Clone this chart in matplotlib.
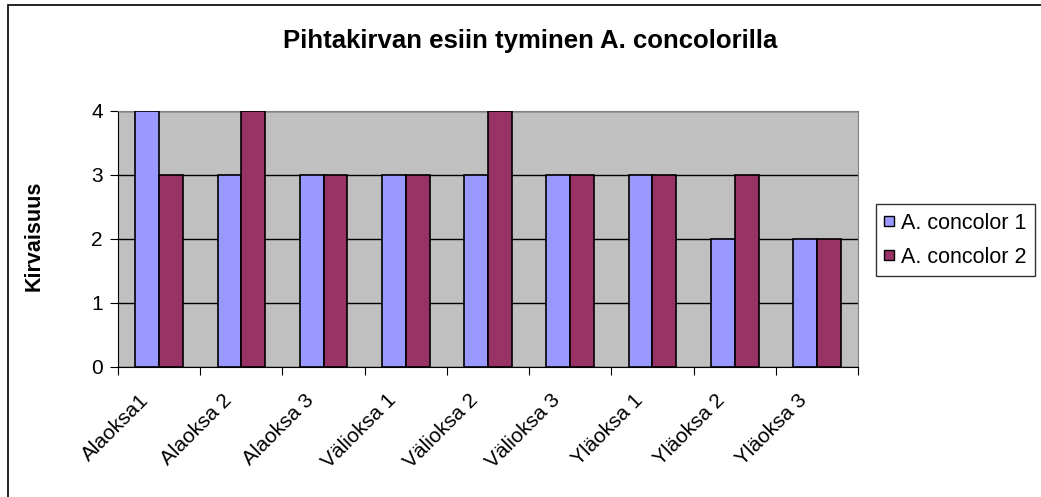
import numpy as np
import matplotlib.pyplot as plt
import matplotlib.transforms as mtransforms
from matplotlib.patches import Rectangle
from matplotlib.lines import Line2D

plt.rcParams['font.family'] = ['Liberation Sans', 'DejaVu Sans']

categories = ['Alaoksa1', 'Alaoksa 2', 'Alaoksa 3', 'Välioksa 1', 'Välioksa 2',
              'Välioksa 3', 'Yläoksa 1', 'Yläoksa 2', 'Yläoksa 3']
concolor1 = [4, 3, 3, 3, 3, 3, 3, 2, 2]
concolor2 = [3, 4, 3, 3, 4, 3, 3, 3, 2]
series_names = ['A. concolor 1', 'A. concolor 2']
colors = ['#9999FF', '#993366']

fig = plt.figure(figsize=(10.41, 4.97), dpi=100)
ax = fig.add_axes([0.1134, 0.2616, 0.7108, 0.5157])
ax.set_facecolor('#C0C0C0')

x = np.arange(len(categories))
w = 0.29
ax.bar(x - w / 2, concolor1, w, color=colors[0], edgecolor='black', linewidth=1.2,
       zorder=3)
ax.bar(x + w / 2, concolor2, w, color=colors[1], edgecolor='black', linewidth=1.2,
       zorder=3)

ax.set_xlim(-0.5, len(categories) - 0.5)
ax.set_ylim(0, 4)
ax.set_yticks([0, 1, 2, 3, 4])
ax.yaxis.grid(True, color='black', linewidth=1, zorder=1)
ax.set_axisbelow(True)

# ticks between categories, labels at category centres
ax.set_xticks(np.arange(len(categories) + 1) - 0.5)
ax.set_xticklabels([])
ax.set_xticks(x, minor=True)
ax.set_xticklabels(categories, minor=True, rotation=45, ha='right', va='center',
                   rotation_mode='anchor', fontsize=15)
ax.tick_params(axis='x', which='minor', length=0, pad=22)
ax.tick_params(axis='x', which='major', length=6, direction='out', color='black')
ax.tick_params(axis='y', length=6, direction='out', labelsize=15, pad=5)
shift = mtransforms.ScaledTranslation(-0.13, 0, fig.dpi_scale_trans)
for lbl in ax.get_xticklabels(minor=True):
    lbl.set_transform(lbl.get_transform() + shift)

for s in ['top', 'right']:
    ax.spines[s].set_color('#808080')
for s in ['left', 'bottom']:
    ax.spines[s].set_color('black')

ax.set_ylabel('Kirvaisuus', fontsize=15.5, fontweight='bold')
ax.yaxis.set_label_coords(-0.099, 0.51)
fig.text(0.509, 0.904, 'Pihtakirvan esiin tyminen A. concolorilla',
         ha='center', va='baseline', fontsize=18.5, fontweight='bold')

handles = [Line2D([], [], linestyle='none', marker='s', markersize=6.5,
                  markerfacecolor=c, markeredgecolor='black', markeredgewidth=1)
           for c in colors]
leg = ax.legend(handles, series_names, loc='center left',
                bbox_to_anchor=(0.8415, 0.517), bbox_transform=fig.transFigure,
                fontsize=15.5, frameon=True, fancybox=False, edgecolor='black',
                handlelength=0.45, handletextpad=0.3, borderpad=0.4,
                labelspacing=0.6, borderaxespad=0)
leg.get_frame().set_linewidth(1)

fig.patches.append(Rectangle((8 / 1041, -0.1), 1.2, 1 - 5 / 497 + 0.1,
                             transform=fig.transFigure, fill=False,
                             edgecolor='black', linewidth=1.2))

fig.savefig('out.png', dpi=100)
